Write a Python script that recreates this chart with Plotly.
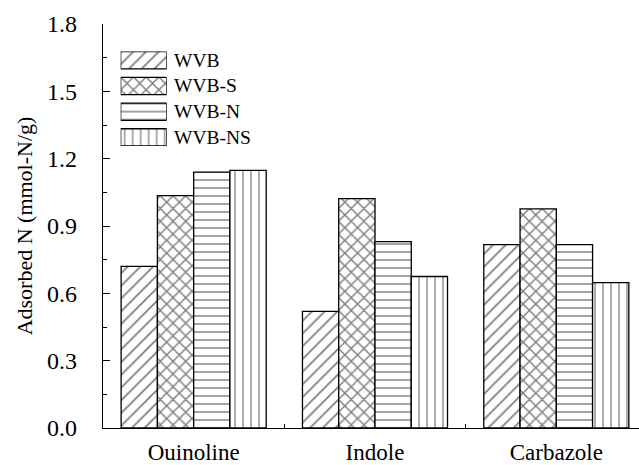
import plotly.graph_objects as go

# Adsorption capacity per compound and sorbent
categories = ["Ouinoline", "Indole", "Carbazole"]
series_names = ["WVB", "WVB-S", "WVB-N", "WVB-NS"]
wvb = [0.72, 0.52, 0.817]
wvb_s = [1.035, 1.022, 0.976]
wvb_n = [1.14, 0.83, 0.817]
wvb_ns = [1.148, 0.675, 0.648]
y_ticks = [0.0, 0.3, 0.6, 0.9, 1.2, 1.5, 1.8]

series_values = [wvb, wvb_s, wvb_n, wvb_ns]
patterns = [
    dict(shape="/", size=9, solidity=0.2),
    dict(shape="x", size=9, solidity=0.3),
    dict(shape="-", size=8, solidity=0.18),
    dict(shape="|", size=8, solidity=0.16),
]

FONT = "Liberation Serif, Times New Roman, serif"

fig = go.Figure()

for name, vals, pat in zip(series_names, series_values, patterns):
    fig.add_trace(go.Bar(
        x=categories, y=vals, name=name,
        marker=dict(color="white",
                    line=dict(color="black", width=1.3),
                    pattern=dict(fgcolor="black", bgcolor="white",
                                 fillmode="overlay", **pat)),
        showlegend=False,
    ))

# Legend keys: patterned swatches drawn on a small inset axis pair
for i, (name, pat) in enumerate(zip(series_names, patterns)):
    fig.add_trace(go.Bar(
        x=[1], y=[i], base=0, orientation="h",
        width=0.67, offset=-0.335,
        xaxis="x3", yaxis="y3",
        marker=dict(color="white",
                    line=dict(color="black", width=1.3),
                    pattern=dict(fgcolor="black", bgcolor="white",
                                 fillmode="overlay", **pat)),
        showlegend=False, hoverinfo="skip",
    ))
    fig.add_annotation(
        x=1, y=i, xref="x3", yref="y3", xanchor="left", yanchor="middle",
        xshift=5, text=name, showarrow=False,
        font=dict(family=FONT, size=19.5, color="black"),
    )

fig.update_layout(
    width=639, height=465,
    margin=dict(l=103, r=0, t=24, b=28),
    paper_bgcolor="white", plot_bgcolor="white",
    barmode="group", bargap=0.2, bargroupgap=0,
    font=dict(family=FONT, color="black"),
    xaxis=dict(
        type="category", range=[-0.5, 2.456],
        tickson="boundaries", ticks="inside", ticklen=4, tickwidth=1,
        tickcolor="black", showline=True, linecolor="black", linewidth=1.3,
        showgrid=False, zeroline=False,
        tickfont=dict(family=FONT, size=23, color="black"),
        ticklabelstandoff=3,
    ),
    xaxis2=dict(
        overlaying="x", side="top", anchor="y", type="linear",
        range=[-0.5, 2.456], tickmode="array", tickvals=[0, 1, 2],
        ticks="inside", ticklen=4, tickcolor="black",
        showticklabels=False, showline=True, linecolor="black",
        linewidth=1.3, showgrid=False, zeroline=False,
    ),
    yaxis=dict(
        range=[0, 1.8], tickmode="array", tickvals=y_ticks,
        tickformat=".1f", ticks="inside", ticklen=7, tickwidth=1,
        tickcolor="black",
        minor=dict(dtick=0.15, ticks="inside", ticklen=4, tickcolor="black"),
        showline=True, linecolor="black", linewidth=1.3,
        showgrid=False, zeroline=False,
        tickfont=dict(family=FONT, size=24, color="black"),
        ticklabelstandoff=20,
        title=dict(text="Adsorbed N (mmol-N/g)",
                   font=dict(family=FONT, size=22, color="black"),
                   standoff=8),
    ),
    xaxis3=dict(domain=[0.033, 0.1188], anchor="y3", range=[0, 1],
                visible=False, fixedrange=True),
    yaxis3=dict(domain=[0.698, 0.9317], anchor="x3", range=[3.335, -0.335],
                visible=False, fixedrange=True),
)

fig.write_html("out.html")
